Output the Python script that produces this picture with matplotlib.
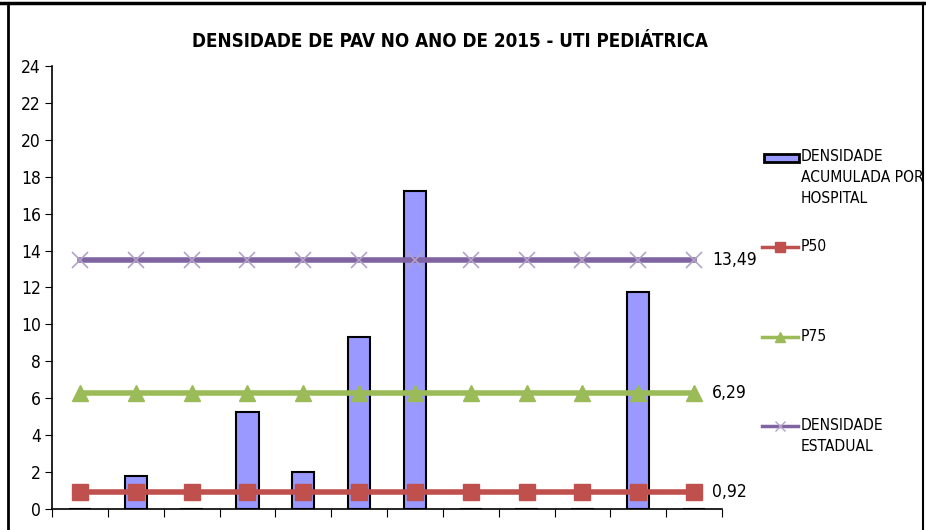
import matplotlib.pyplot as plt
from matplotlib.lines import Line2D
from matplotlib.patches import Rectangle

plt.rcParams['font.family'] = ['DejaVu Sans']
plt.rcParams['font.stretch'] = 'condensed'

# dados
hospitais = list(range(1, 13))
densidade = [0, 1.8, 0, 5.25, 2.0, 9.3, 17.2, 0, 0, 0, 11.75, 0]
p50 = [0.92] * 12
p75 = [6.29] * 12
estadual = [13.49] * 12
titulo = 'DENSIDADE DE PAV NO ANO DE 2015 - UTI PEDIÁTRICA'

cor_barra = '#9999FF'
cor_p50 = '#C0504D'
cor_p75 = '#9BBB59'
cor_est = '#8064A2'

fig = plt.figure(figsize=(9.26, 5.30), dpi=100)
ax = fig.add_axes([0.0562, 0.0396, 0.7235, 0.836])

ax.bar(hospitais, densidade, width=0.4, color=cor_barra, edgecolor='black', linewidth=1.5, zorder=2)
ax.plot(hospitais, p50, color=cor_p50, lw=4, marker='s', ms=11, zorder=3)
ax.plot(hospitais, p75, color=cor_p75, lw=4, marker='^', ms=11, zorder=3)
ax.plot(hospitais, estadual, color=cor_est, lw=4, marker='x', ms=12, mew=1.2,
        mec='#B3A2C7', zorder=3)

for serie in (p50, p75, estadual):
    ax.annotate(f'{serie[-1]:.2f}'.replace('.', ','), (hospitais[-1], serie[-1]),
                xytext=(13, 0), textcoords='offset points', va='center', ha='left',
                fontsize=12.5)

ax.set_xlim(0.5, 12.5)
ax.set_ylim(0, 24)
ax.set_yticks(range(0, 25, 2))
ax.set_xticks([x + 0.5 for x in range(0, 13)])
ax.set_xticklabels([])
ax.tick_params(axis='y', labelsize=12.5, length=5, direction='out', pad=3)
ax.tick_params(axis='x', length=6, direction='out')
for s in ('top', 'right'):
    ax.spines[s].set_visible(False)
ax.spines['left'].set_linewidth(1.2)
ax.spines['bottom'].set_linewidth(1.2)

fig.text(0.486, 0.921, titulo, ha='center', va='center', fontsize=13.5, fontweight='bold')

# legenda manual
W, H = 926, 530


def fx(px):
    return px / W


def fy(py):
    return 1 - py / H


fig.add_artist(Rectangle((fx(764), fy(162)), fx(35), 8 / H, transform=fig.transFigure,
                         facecolor=cor_barra, edgecolor='black', lw=2))
fig.text(fx(801), fy(149), 'DENSIDADE\nACUMULADA POR\nHOSPITAL', va='top', ha='left',
         fontsize=11.2, linespacing=1.5)
legenda = [(247, cor_p50, 's', 'P50', None), (337, cor_p75, '^', 'P75', None),
           (426, cor_est, 'x', 'DENSIDADE\nESTADUAL', '#B3A2C7')]
for py, cor, mk, txt, mec in legenda:
    fig.add_artist(Line2D([fx(762), fx(798)], [fy(py), fy(py)], transform=fig.transFigure,
                          color=cor, lw=2.5))
    fig.add_artist(Line2D([fx(780)], [fy(py)], transform=fig.transFigure, color=cor,
                          marker=mk, ms=7, mec=mec or cor, lw=0))
    fig.text(fx(801), fy(py - 8), txt, va='top', ha='left', fontsize=11.2, linespacing=1.5)

# moldura
fig.add_artist(Line2D([0, 1], [fy(3), fy(3)], transform=fig.transFigure, color='black', lw=2.5))
fig.add_artist(Line2D([fx(8), fx(8)], [0, fy(3)], transform=fig.transFigure, color='black', lw=2))
fig.add_artist(Line2D([fx(923), fx(923)], [0, fy(3)], transform=fig.transFigure, color='black', lw=1.5))

fig.savefig('out.png', dpi=100)
